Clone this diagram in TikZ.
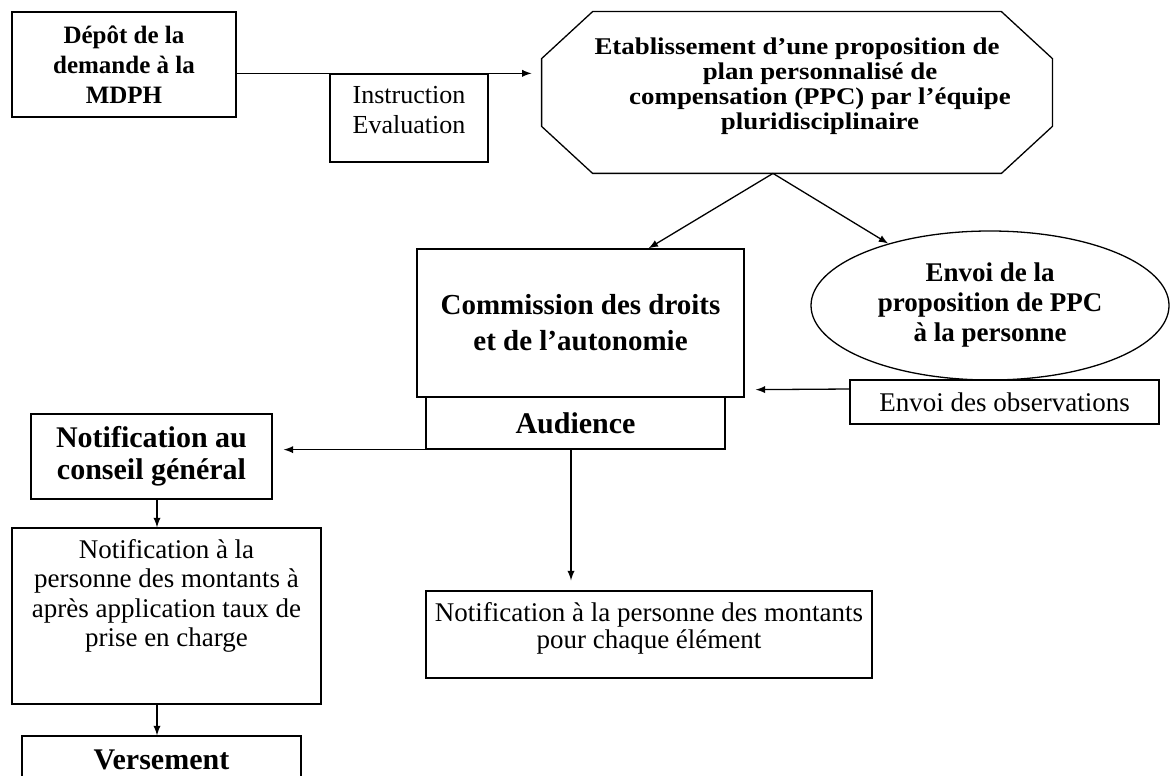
\documentclass[tikz,border=0pt]{standalone}
\usepackage{fontspec}
\setmainfont{Liberation Serif}
\newfontfamily\octofont[FakeStretch=1.12]{Liberation Serif}
\usetikzlibrary{arrows,shapes.geometric,calc}
\newcommand{\tightlines}{\lineskiplimit -100pt\relax}

\begin{document}
\begin{tikzpicture}[x=0.5pt,y=-0.5pt,
  box/.style={draw,line width=0.65pt,inner sep=0pt,align=center},
  arr/.style={->,>=latex,line width=0.65pt}]
           \useasboundingbox (0,0) rectangle (1170,775);
           \clip (0,0) rectangle (1170,775);
           % haut
           \node[box,minimum width=112pt,minimum height=52.5pt,font=\fontsize{12.5}{15}\selectfont\bfseries] (depot) at (124,64.5) {Dépôt de la\\demande à la\\MDPH};
           \node[box,minimum width=79pt,minimum height=44pt,align=left,text depth=8pt,font=\fontsize{13}{15}\selectfont] (instr) at (409,118) {Instruction\\Evaluation};
           \node[inner sep=0pt,minimum width=255pt,minimum height=80.5pt,align=center,text depth=9pt,font={\octofont\fontsize{12}{12.6}\selectfont\bfseries\tightlines}] (ppc) at (797,92.5) {Etablissement d’une proposition de\\\hspace*{23pt}plan personnalisé de\\\hspace*{23pt}compensation (PPC) par l’équipe\\\hspace*{23pt}pluridisciplinaire};
           \draw[line width=0.65pt] ([xshift=25.5pt]ppc.north west) -- ([xshift=-25.5pt]ppc.north east) -- ([yshift=-23.5pt]ppc.north east) -- ([yshift=23.5pt]ppc.south east) -- ([xshift=-25.5pt]ppc.south east) -- ([xshift=25.5pt]ppc.south west) -- ([yshift=23.5pt]ppc.south west) -- ([yshift=-23.5pt]ppc.north west) -- cycle; %octogone
           \draw[arr,shorten >=5pt] (depot.east |- instr.north) -- (ppc.west |- instr.north);
           \coordinate (fork) at ([xshift=-12pt]ppc.south);

           % milieu
           \node[box,minimum width=163.5pt,minimum height=74pt,font=\fontsize{14.5}{18}\selectfont\bfseries] (cda) at (580.5,323) {Commission des droits\\et de l’autonomie};
           \node[box,minimum width=149.5pt,minimum height=26pt,font=\fontsize{15}{18}\selectfont\bfseries] (aud) at (575.5,423) {Audience};
           \node[draw,ellipse,line width=0.65pt,minimum width=179pt,minimum height=74.5pt,inner sep=0pt,align=center,font=\fontsize{13.5}{15}\selectfont\bfseries] (envoi) at (990,305.5) {Envoi de la\\proposition de PPC\\à la personne};
           \node[box,minimum width=154.5pt,minimum height=22pt,font=\fontsize{13.5}{15}\selectfont] (obs) at (1004.5,402) {Envoi des observations};
           \draw[arr] (fork) -- ([xshift=34pt]cda.north);
           \draw[arr] (fork) -- (envoi);
           \draw[arr] ([yshift=6.5pt]obs.west) -- ([xshift=5.5pt,yshift=4pt]cda.south east);

           % bas
           \node[box,minimum width=120.5pt,minimum height=42.5pt,font=\fontsize{15}{16}\selectfont\bfseries] (ncg) at (151.5,456.5) {Notification au\\conseil général};
           \draw[arr,shorten >=5.5pt] (aud.south west) -- (aud.south west -| ncg.east);
           \node[box,minimum width=154.5pt,minimum height=88pt,text depth=23pt,font=\fontsize{13.5}{14.75}\selectfont] (npers) at (166.5,616) {Notification à la\\personne des montants à\\après application taux de\\prise en charge};
           \draw[arr] ([xshift=2.75pt]ncg.south) -- ([xshift=2.75pt]ncg.south |- npers.north);
           \node[box,minimum width=139.5pt,minimum height=24pt,font=\fontsize{15}{18}\selectfont\bfseries] (vers) at (161.5,760) {Versement};
           \draw[arr] ([xshift=-4.75pt]npers.south) -- ([xshift=-4.75pt]npers.south |- vers.north);
           \node[box,minimum width=223pt,minimum height=43.5pt,text depth=9pt,font=\fontsize{13.5}{13.5}\selectfont] (nel) at (649,634.5) {Notification à la personne des montants\\pour chaque élément};
           \draw[arr,shorten >=5pt] ([xshift=-2.25pt]aud.south) -- ([xshift=-2.25pt]aud.south |- nel.north);
          \end{tikzpicture}
\end{document}
